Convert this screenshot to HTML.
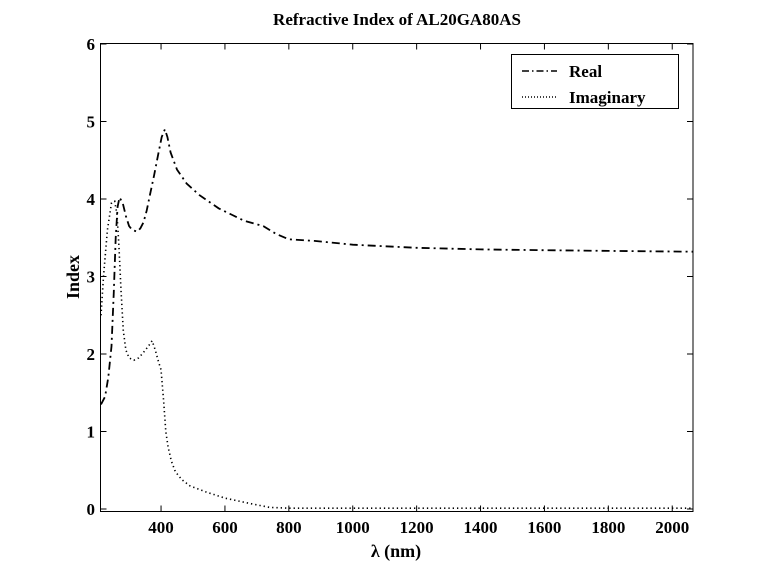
<!DOCTYPE html>
<html><head><meta charset="utf-8"><style>
body{margin:0;background:#fff}
svg{display:block;font-family:"Liberation Serif",serif;font-weight:bold}
</style></head><body>
<svg width="767" height="576">
<rect width="767" height="576" fill="#fff"/>
<text x="397" y="25" text-anchor="middle" font-size="17">Refractive Index of AL20GA80AS</text>
<g id="axes"></g>
<g id="series"></g>
<rect x="100.5" y="43.5" width="592.5" height="468" fill="none" stroke="#000" stroke-width="1"/>
<text x="396" y="557" text-anchor="middle" font-size="18">λ (nm)</text>
<text transform="translate(79,277) rotate(-90)" text-anchor="middle" font-size="18">Index</text>
<g>
<rect x="511.5" y="54.5" width="167" height="54" fill="#fff" stroke="#000"/>
<line x1="522" y1="71" x2="557" y2="71" stroke="#000" stroke-width="1.5" stroke-dasharray="7,3,1.5,3"/>
<text x="569" y="77" font-size="17">Real</text>
<line x1="522" y1="97" x2="557" y2="97" stroke="#000" stroke-width="1.5" stroke-dasharray="1,2"/>
<text x="569" y="103" font-size="17">Imaginary</text>
</g>
</svg>
<script>
const xTicks=[400,600,800,1000,1200,1400,1600,1800,2000];
const yTicks=[0,1,2,3,4,5,6];
const realX=[212,225,235,245,252,258,264,270,280,290,300,310,325,335,345,355,365,378,390,402,412,420,430,450,480,520,580,620,660,720,760,800,880,1000,1200,1400,1600,1800,2065];
const realY=[1.35,1.45,1.7,2.1,2.8,3.5,3.9,4.02,3.95,3.78,3.65,3.6,3.58,3.62,3.7,3.85,4.05,4.3,4.55,4.8,4.9,4.8,4.6,4.38,4.2,4.05,3.88,3.8,3.72,3.65,3.55,3.48,3.46,3.41,3.37,3.35,3.34,3.33,3.32];
const imagX=[212,220,232,245,255,262,268,275,282,290,300,315,330,345,360,372,382,392,400,408,415,422,432,445,465,490,540,600,680,740,800,1000,1400,2065];
const imagY=[2.5,3.0,3.6,3.95,3.97,3.8,3.4,2.8,2.3,2.05,1.95,1.92,1.95,2.02,2.1,2.17,2.05,1.9,1.8,1.4,1.0,0.8,0.62,0.48,0.38,0.3,0.22,0.14,0.07,0.02,0.01,0.01,0.01,0.01];
const X0=100.5,X1=693,XMIN=210.5,XMAX=2065;
const Y0=509,PX=77.5;
function sx(v){return X0+(v-XMIN)/(XMAX-XMIN)*(X1-X0);}
function sy(v){return Y0-v*PX;}
const NS="http://www.w3.org/2000/svg";
const axes=document.getElementById('axes'),ser=document.getElementById('series');
function mk(tag,attrs,parent){const e=document.createElementNS(NS,tag);for(const k in attrs)e.setAttribute(k,attrs[k]);parent.appendChild(e);return e;}
xTicks.forEach(t=>{
 const x=sx(t);
 const l1=mk('line',{x1:x,x2:x,y1:511.5,y2:505.5,stroke:'#000'},axes);
 
 
 const l2=mk('line',{x1:x,x2:x,y1:43.5,y2:49.5,stroke:'#000'},axes);
 
 
 const tx=mk('text',{x:x,y:533,'text-anchor':'middle','font-size':17},axes);
 tx.textContent=t;
 
 
});
yTicks.forEach(t=>{
 const y=sy(t);
 const l1=mk('line',{x1:100.5,x2:106.5,y1:y,y2:y,stroke:'#000'},axes);
 
 
 const l2=mk('line',{x1:693,x2:687,y1:y,y2:y,stroke:'#000'},axes);
 
 
 const tx=mk('text',{x:95,y:y+6,'text-anchor':'end','font-size':17},axes);
 tx.textContent=t;
 
 
});
function path(xs,ys){return xs.map((v,i)=>(i?'L':'M')+sx(v).toFixed(1)+','+sy(ys[i]).toFixed(1)).join('');}
const pr=mk('path',{d:path(realX,realY),fill:'none',stroke:'#000','stroke-width':1.8,'stroke-dasharray':'8,4,2,4'},ser);


const pi=mk('path',{d:path(imagX,imagY),fill:'none',stroke:'#000','stroke-width':1.6,'stroke-dasharray':'1.3,3'},ser);


</script>
</body></html>
